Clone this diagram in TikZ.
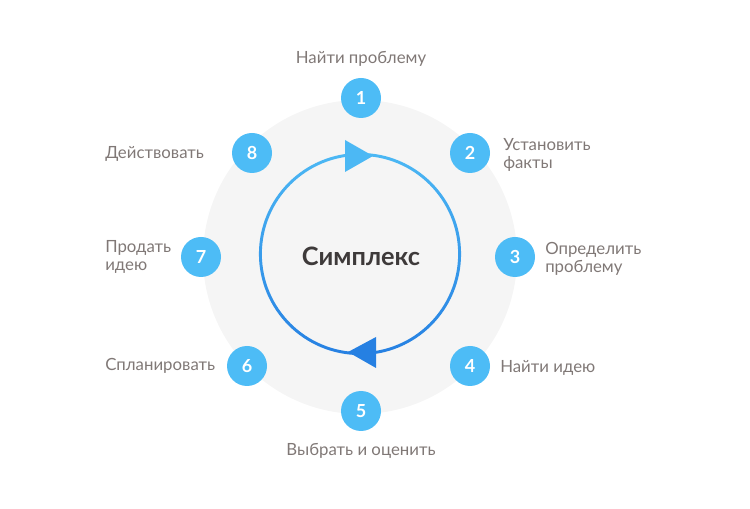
\documentclass[tikz,border=0pt]{standalone}
\usepackage{fontspec}
\setmainfont{Lato}
\usetikzlibrary{positioning}
\definecolor{stepblue}{RGB}{77,188,246}
\definecolor{bggray}{RGB}{245,245,245}
\definecolor{labelgray}{RGB}{128,120,118}
\definecolor{titlegray}{RGB}{62,58,58}
\definecolor{ringtop}{RGB}{76,184,244}
\definecolor{ringbot}{RGB}{38,128,226}

\begin{document}
\begin{tikzpicture}[x=0.75pt, y=-0.75pt,
		num/.style={circle, fill=stepblue, minimum size=30pt, inner sep=0pt, text=white, font=\bfseries\fontsize{13.5}{13.5}\selectfont},
		lbl/.style={inner sep=0pt, text=labelgray, align=left, font=\fontsize{12.6}{13.5}\selectfont},
		title/.style={inner sep=0pt, text=titlegray, font=\bfseries\fontsize{19}{19}\selectfont}
		]
		\useasboundingbox (0,0) rectangle (750,509);
		% background disk and cycle ring
		\fill[bggray] (360,257) circle (117.75pt);
		\shade[top color=ringtop, bottom color=ringbot, even odd rule] (360,254) circle (75.8pt) (360,254) circle (73.6pt);
		\fill[ringtop] (345,140) -- (373,156) -- (345,172) -- cycle;
		\fill[ringbot] (348,352) -- (376,337) -- (376,368) -- cycle;
		\node[title] (simplex) at (361,256) {Симплекс};
		
		% steps
		\node[num] (n1) at (361,98) {1};
		\node[num] (n2) at (470,153) {2};
		\node[num] (n3) at (515,257) {3};
		\node[num] (n4) at (470,366) {4};
		\node[num] (n5) at (361,411) {5};
		\node[num] (n6) at (247,366) {6};
		\node[num] (n7) at (201,257) {7};
		\node[num] (n8) at (252,153) {8};
		
		\node[lbl] (l1) at (361,59) {Найти проблему};
		\node[lbl, anchor=west] (l2) at (503,155) {Установить\\факты};
		\node[lbl, anchor=west] (l3) at (545,259) {Определить\\проблему};
		\node[lbl, anchor=west] (l4) at (500,368) {Найти идею};
		\node[lbl] (l5) at (361,451) {Выбрать и оценить};
		\node[lbl, anchor=west] (l6) at (105,366) {Спланировать};
		\node[lbl, anchor=west] (l7) at (105,257) {Продать\\идею};
		\node[lbl, anchor=west] (l8) at (105,154) {Действовать};
\end{tikzpicture}
\end{document}
